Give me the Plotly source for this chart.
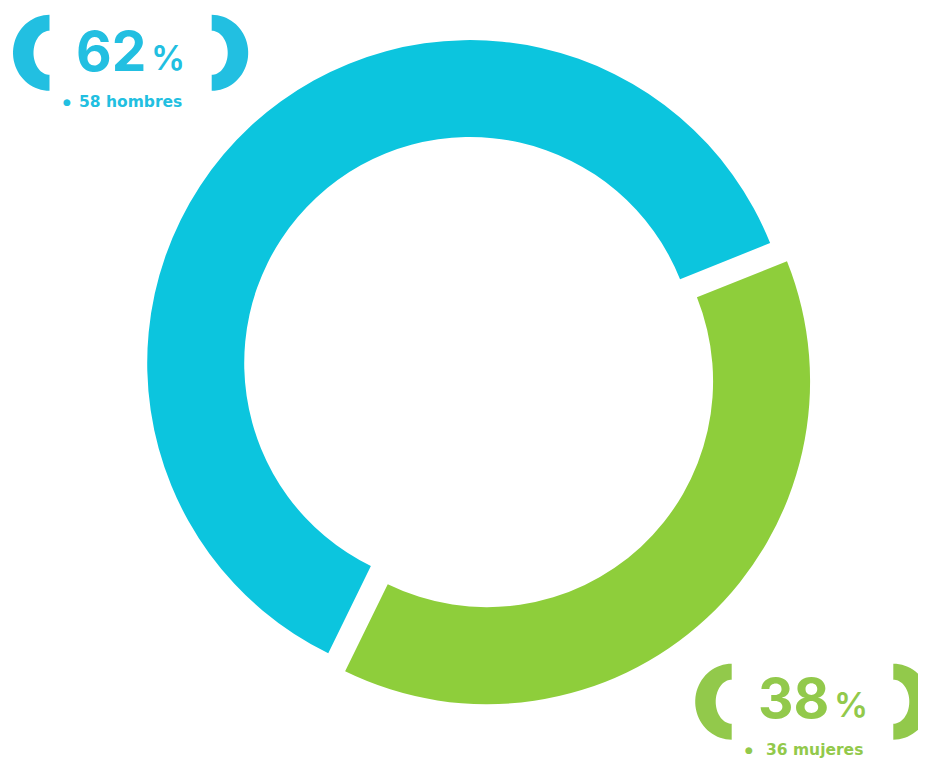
import numpy as np
import plotly.graph_objects as go

# page body has an 8px margin; figure drawn at (8, 8)
OFF = 8
W, H = 926 - OFF, 762 - OFF

# ---- data ----
categories = ["mujeres", "hombres"]
counts = [36, 58]
percent_labels = ["38", "62"]
count_labels = ["36 mujeres", "58 hombres"]

ring_colors = ["#8ECE3B", "#0CC5DE"]
label_colors = ["#92C94B", "#22BFE1"]

def px(x):
    return (x - OFF) / W

def py(y):
    return 1 - (y - OFF) / H

# ring geometry (screen pixels): exploded donut
cx, cy = 478.65, 372.15
R_out = 323.0
R_in = 226.0
pull = 12.4 / R_out
half = R_out * (1 + pull)

fig = go.Figure(go.Pie(
    labels=categories,
    values=counts,
    hole=R_in / R_out,
    sort=False,
    direction="clockwise",
    rotation=68.2,
    pull=[pull, pull],
    marker=dict(colors=ring_colors, line=dict(width=0)),
    textinfo="none",
    hoverinfo="label+value+percent",
    showlegend=False,
    domain=dict(x=[px(cx - half), px(cx + half)],
                y=[py(cy + half), py(cy - half)]),
))

shapes = []
annotations = []

def bracket(flat_x, cyb, side, color):
    t = np.linspace(-np.pi / 2, np.pi / 2, 40)
    ro_x, ro_y = 36.5, 38
    ri_x, ri_y = 16, 22
    outer = [(flat_x + side * ro_x * np.cos(a), cyb + ro_y * np.sin(a)) for a in t]
    inner = [(flat_x + side * ri_x * np.cos(a), cyb + ri_y * np.sin(a)) for a in t[::-1]]
    pts = outer + inner
    path = "M " + " L ".join(f"{px(x):.5f},{py(y):.5f}" for x, y in pts) + " Z"
    return dict(type="path", xref="paper", yref="paper", path=path,
                fillcolor=color, line=dict(width=0), layer="above")

def label(idx, lb_flat, rb_flat, cyb, num_right, num_cy, sub_x, sub_y, bullet_x):
    c = label_colors[idx]
    shapes.append(bracket(lb_flat, cyb, -1, c))
    shapes.append(bracket(rb_flat, cyb, +1, c))
    annotations.append(dict(
        x=px(num_right), y=py(num_cy), xref="paper", yref="paper",
        xanchor="right", yanchor="middle", showarrow=False,
        text=f"{percent_labels[idx]}",
        font=dict(family="Inter", size=55, color=c, weight=700)))
    annotations.append(dict(
        x=px(num_right + 1), y=py(num_cy + 6.5), xref="paper", yref="paper",
        xanchor="left", yanchor="middle", showarrow=False,
        text="%",
        font=dict(family="Inter", size=34, color=c, weight=600)))
    annotations.append(dict(
        x=px(bullet_x), y=py(sub_y), xref="paper", yref="paper",
        xanchor="center", yanchor="middle", showarrow=False,
        text="●", font=dict(family="DejaVu Sans", size=9, color=c)))
    annotations.append(dict(
        x=px(sub_x), y=py(sub_y), xref="paper", yref="paper",
        xanchor="left", yanchor="middle", showarrow=False,
        text=f"<b>{count_labels[idx]}</b>",
        font=dict(family="DejaVu Sans", size=15.5, color=c)))

# hombres label (top-left)
label(1, 49.5, 211.7, 52.8, 148, 50.5, 77, 102.5, 67)
# mujeres label (bottom-right)
label(0, 731.7, 893.3, 701.7, 830.5, 697.5, 764, 750, 749)

fig.update_layout(
    width=W, height=H,
    margin=dict(l=0, r=0, t=0, b=0),
    paper_bgcolor="white", plot_bgcolor="white",
    shapes=shapes, annotations=annotations,
)

fig.write_html("out.html")
